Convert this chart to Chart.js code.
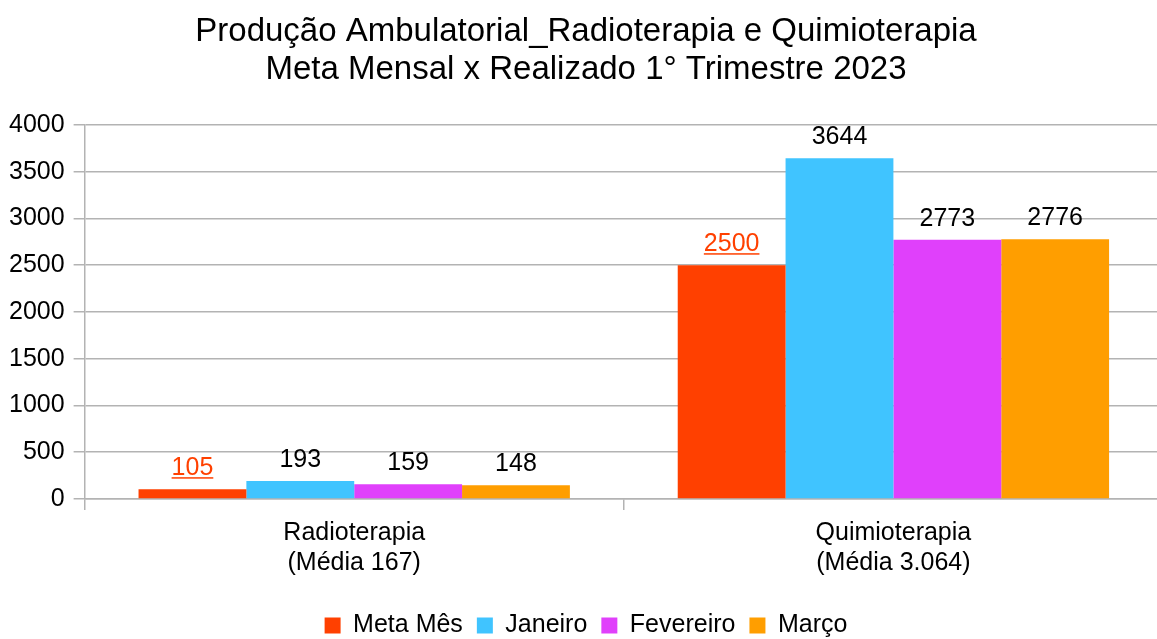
<!DOCTYPE html>
<html lang="pt">
<head>
    <meta charset="UTF-8">
    <title>Produção Ambulatorial - Radioterapia e Quimioterapia</title>
    <script src="https://cdn.jsdelivr.net/npm/chart.js@4.4.0/dist/chart.umd.min.js"></script>
    <style>
        html, body {
            margin: 0;
            padding: 0;
            background: #ffffff;
            overflow: hidden;
        }
        .chart-container {
            width: 1168px;
            height: 648px;
        }
    </style>
</head>
<body>
    <div class="chart-container">
        <canvas id="prodChart"></canvas>
    </div>

    <script>
        // Categories and series
        const categories = [
            ['Radioterapia', '(Média 167)'],
            ['Quimioterapia', '(Média 3.064)']
        ];
        const metaMes   = [105, 2500];
        const janeiro   = [193, 3644];
        const fevereiro = [159, 2773];
        const marco     = [148, 2776];
        const yTicks    = [0, 500, 1000, 1500, 2000, 2500, 3000, 3500, 4000];

        const FONT = "'Liberation Sans', Arial, sans-serif";
        const GRID = '#b3b3b3';

        // Draws the value above each bar (Meta Mês in orange and underlined)
        const valueLabels = {
            id: 'valueLabels',
            afterDatasetsDraw(chart) {
                const ctx = chart.ctx;
                ctx.save();
                ctx.font = '25px ' + FONT;
                ctx.textAlign = 'center';
                ctx.textBaseline = 'alphabetic';
                chart.data.datasets.forEach((ds, i) => {
                    const meta = chart.getDatasetMeta(i);
                    meta.data.forEach((bar, j) => {
                        const text = String(ds.data[j]);
                        const y = bar.y - 14;
                        ctx.fillStyle = i === 0 ? '#ff4000' : '#000000';
                        ctx.fillText(text, bar.x, y);
                        if (i === 0) {
                            const w = ctx.measureText(text).width;
                            ctx.fillRect(bar.x - w / 2, y + 2, w, 1.5);
                        }
                    });
                });
                ctx.restore();
            }
        };

        const ctx = document.getElementById('prodChart').getContext('2d');
        new Chart(ctx, {
            type: 'bar',
            data: {
                labels: categories,
                datasets: [
                    { label: 'Meta Mês',  data: metaMes,   backgroundColor: '#ff4000' },
                    { label: 'Janeiro',   data: janeiro,   backgroundColor: '#40c4ff' },
                    { label: 'Fevereiro', data: fevereiro, backgroundColor: '#e040fb' },
                    { label: 'Março',     data: marco,     backgroundColor: '#ff9e00' }
                ]
            },
            options: {
                responsive: true,
                maintainAspectRatio: false,
                animation: false,
                datasets: {
                    bar: { categoryPercentage: 0.8, barPercentage: 1.0, borderWidth: 0 }
                },
                layout: { padding: { top: 0, left: 9, right: 5, bottom: 0 } },
                scales: {
                    x: {
                        grid: {
                            offset: true,
                            drawOnChartArea: false,
                            drawTicks: true,
                            tickLength: 11,
                            color: GRID,
                            lineWidth: 1.5
                        },
                        border: { color: GRID, width: 1.5 },
                        ticks: {
                            color: '#000000',
                            font: { family: FONT, size: 25, lineHeight: 1.2 },
                            padding: 8
                        },
                        afterFit: scale => { scale.height += 13; }
                    },
                    y: {
                        min: 0,
                        max: 4000,
                        afterBuildTicks: axis => {
                            axis.ticks = yTicks.map(v => ({ value: v }));
                        },
                        grid: {
                            color: GRID,
                            lineWidth: 1.5,
                            drawTicks: true,
                            tickLength: 11
                        },
                        border: { color: GRID, width: 1.5 },
                        ticks: {
                            color: '#000000',
                            font: { family: FONT, size: 25 },
                            padding: 9,
                            callback: v => String(v)
                        },
                        afterFit: scale => { scale.width -= 9; }
                    }
                },
                plugins: {
                    title: {
                        display: true,
                        text: ['Produção Ambulatorial_Radioterapia e Quimioterapia',
                               'Meta Mensal x Realizado 1° Trimestre 2023'],
                        color: '#000000',
                        font: { family: FONT, size: 33, weight: 'normal', lineHeight: 1.15 },
                        padding: { top: 13, bottom: 36 }
                    },
                    legend: {
                        position: 'bottom',
                        labels: {
                            color: '#000000',
                            font: { family: FONT, size: 25 },
                            boxWidth: 16,
                            boxHeight: 16,
                            padding: 14
                        }
                    },
                    tooltip: { enabled: false }
                }
            },
            plugins: [valueLabels]
        });
    </script>
</body>
</html>
